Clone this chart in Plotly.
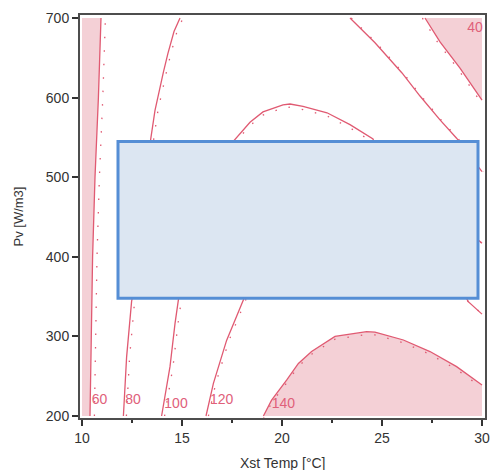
import plotly.graph_objects as go

# ---- data ----
x_ticks = [10, 15, 20, 25, 30]
x_minor = [12.5, 17.5, 22.5, 27.5]
y_ticks = [200, 300, 400, 500, 600, 700]

# contour 60 (left, shaded side toward x=10)
c60_x = [10.40, 10.45, 10.53, 10.65, 10.82, 10.95]
c60_y = [200, 300, 400, 500, 600, 700]

# contour 80 lower part (below the box) and upper part (above the box)
c80a_x = [12.07, 12.23, 12.48, 12.60]
c80a_y = [200, 274, 344, 360]
c80b_x = [13.40, 13.43, 13.65, 13.85, 14.07, 14.30, 14.60, 14.90]
c80b_y = [530, 547, 584, 609, 632, 656, 683, 700]

# contour 100 lower part
c100_x = [13.98, 14.40, 14.65, 14.82, 14.90]
c100_y = [200, 262, 316, 347, 360]

# contour 120 lower part
c120_x = [16.20, 16.57, 17.23, 18.07, 18.30]
c120_y = [200, 241, 295, 347, 360]

# arc above the box
arc_x = [17.40, 17.60, 18.40, 19.05, 20.05, 20.40, 21.05, 22.25, 23.40, 24.55, 24.80]
arc_y = [530, 546, 569, 582, 591, 592, 589, 581, 566, 548, 530]

# diagonal line upper right
diag_x = [23.40, 24.65, 26.00, 26.90, 27.90, 28.73, 30.00]
diag_y = [700, 669, 631, 602, 572, 549, 507]

# contour 40 (top-right corner, shaded)
c40_x = [27.15, 27.90, 28.90, 30.00]
c40_y = [700, 670, 637, 597]

# short fragments at the right edge
frag1_x = [29.40, 30.00]
frag1_y = [430, 417]
frag2_x = [29.00, 29.30, 30.00]
frag2_y = [360, 344, 328]

# contour 140 (bottom-right, shaded)
c140_x = [19.07, 19.48, 20.23, 20.82, 21.48, 22.65, 24.23, 24.65, 26.07, 27.40, 28.73, 30.00]
c140_y = [200, 220, 245, 266, 281, 300, 306, 305.5, 295.5, 281, 262, 239]

# contour labels
lab_text = ["60", "80", "100", "120", "140", "40"]
lab_x = [10.88, 12.55, 14.70, 16.98, 20.07, 29.65]
lab_y = [219, 219, 214.7, 219, 214.7, 687]

# highlighted box
box_x = [11.80, 29.80]
box_y = [348, 545]

# ---- styling ----
LINE = "#e05a72"
FILL = "rgba(240,190,198,0.72)"
TEXT = "#e0607a"
FONT = "Liberation Sans, Arial, sans-serif"

fig = go.Figure()


def add_line(xs, ys, dx=0.0, dy=0.0):
    fig.add_trace(go.Scatter(x=xs, y=ys, mode="lines",
                             line=dict(color=LINE, width=1.3),
                             hoverinfo="skip", showlegend=False))
    fig.add_trace(go.Scatter(x=[v + dx for v in xs], y=[v + dy for v in ys], mode="lines",
                             line=dict(color=LINE, width=1.3, dash="1.5px,12px"),
                             hoverinfo="skip", showlegend=False))


def add_fill(xs, ys):
    fig.add_trace(go.Scatter(x=xs, y=ys, mode="lines", fill="toself",
                             fillcolor=FILL, line=dict(width=0),
                             hoverinfo="skip", showlegend=False))


# shaded regions
add_fill([10] + c60_x + [10], [200] + c60_y + [700])
add_fill(c40_x + [30, 27.15], c40_y + [700, 700])
add_fill(c140_x + [30], c140_y + [200])

# contour lines with dotted companions
add_line(c60_x, c60_y, dx=0.22)
add_line(c80a_x, c80a_y, dx=0.15)
add_line(c80b_x, c80b_y, dx=0.15)
add_line(c100_x, c100_y, dx=0.15)
add_line(c120_x, c120_y, dx=0.12)
add_line(arc_x, arc_y, dy=-4)
add_line(diag_x, diag_y, dx=0.06)
add_line(c40_x, c40_y, dx=-0.13)
add_line(frag1_x, frag1_y)
add_line(frag2_x, frag2_y)
add_line(c140_x, c140_y, dy=-3.5)

# labels
fig.add_trace(go.Scatter(x=lab_x, y=lab_y, mode="text", text=lab_text,
                         textfont=dict(color=TEXT, size=14, family=FONT),
                         hoverinfo="skip", showlegend=False, cliponaxis=False))

# box
fig.add_shape(type="rect", x0=box_x[0], x1=box_x[1], y0=box_y[0], y1=box_y[1],
              xref="x", yref="y", layer="above",
              fillcolor="#dce6f2", line=dict(color="#558ed5", width=3))

axis_common = dict(showline=True, linecolor="#4d4d4d", linewidth=2, mirror=True,
                   showgrid=False, zeroline=False, ticks="outside", ticklen=6,
                   tickwidth=1.5, tickcolor="#333", automargin=False,
                   tickfont=dict(size=14, color="#333", family=FONT))

# axis titles as annotations for exact placement
fig.add_annotation(text="Xst Temp [°C]", xref="paper", yref="paper", x=0.5, y=0,
                   xanchor="center", yanchor="top", yshift=-35, showarrow=False,
                   font=dict(size=14, color="#333", family=FONT))
fig.add_annotation(text="Pv [W/m3]", xref="paper", yref="paper", x=0, y=0.5,
                   xanchor="center", yanchor="middle", xshift=-62, textangle=-90,
                   showarrow=False, font=dict(size=13, color="#333", family=FONT))

fig.update_layout(
    width=492, height=470,
    margin=dict(l=80, r=7, t=15, b=52, autoexpand=False),
    paper_bgcolor="white", plot_bgcolor="white",
    font=dict(family=FONT, color="#333"),
    xaxis=dict(range=[9.9, 30.15], tickvals=x_ticks,
               minor=dict(tickvals=x_minor, ticks="outside",
                          ticklen=3, tickwidth=1.5, tickcolor="#333"),
               **axis_common),
    yaxis=dict(range=[197.5, 703.8], tickvals=y_ticks, **axis_common),
)

fig.write_html("out.html", config={"displayModeBar": False},
               post_script="document.body.style.margin='0';document.body.style.overflow='hidden';")
